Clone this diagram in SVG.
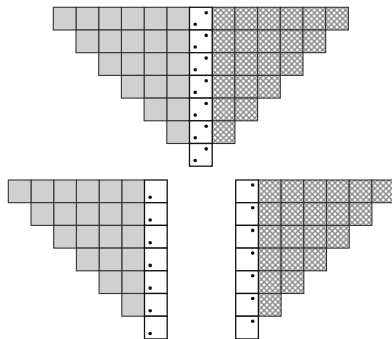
<svg xmlns="http://www.w3.org/2000/svg" xmlns:xlink="http://www.w3.org/1999/xlink" width="392" height="339" viewBox="0 0 392 339">
<style>
.g{fill:#d0d0d0;stroke:#333333;stroke-width:1.1}
.h{fill:url(#hatch);stroke:#333333;stroke-width:1.1}
.w{fill:#ffffff;stroke:#111111;stroke-width:1.3}
.dt{fill:#111111}
</style>
<defs>
<pattern id="hatch" patternUnits="userSpaceOnUse" width="5.675" height="5.675">
<rect width="5.675" height="5.675" fill="#ffffff"/>
<path d="M-1,-1 L6.675,6.675 M6.675,-1 L-1,6.675" stroke="#858585" stroke-width="1.35"/>
</pattern>
<rect id="gc" class="g" width="22.7" height="22.7"/>
<rect id="hc" class="h" width="22.7" height="22.7"/>
<g id="d2"><rect class="w" width="22.7" height="22.7"/><circle class="dt" cx="16.7" cy="5.4" r="1.8"/><circle class="dt" cx="5.7" cy="17" r="1.8"/></g>
<g id="dl"><rect class="w" width="22.7" height="22.7"/><circle class="dt" cx="5.7" cy="17.3" r="1.8"/></g>
<g id="dr"><rect class="w" width="22.7" height="22.7"/><circle class="dt" cx="17" cy="5" r="1.8"/></g>
</defs>
<g id="connectors"/>
<g id="top" transform="translate(189.5,7.3)">
<use href="#gc" x="-22.7" y="0"/><use href="#gc" x="-45.4" y="0"/><use href="#gc" x="-68.1" y="0"/><use href="#gc" x="-90.8" y="0"/><use href="#gc" x="-113.5" y="0"/><use href="#gc" x="-136.2" y="0"/>
<use href="#gc" x="-22.7" y="22.7"/><use href="#gc" x="-45.4" y="22.7"/><use href="#gc" x="-68.1" y="22.7"/><use href="#gc" x="-90.8" y="22.7"/><use href="#gc" x="-113.5" y="22.7"/>
<use href="#gc" x="-22.7" y="45.4"/><use href="#gc" x="-45.4" y="45.4"/><use href="#gc" x="-68.1" y="45.4"/><use href="#gc" x="-90.8" y="45.4"/>
<use href="#gc" x="-22.7" y="68.1"/><use href="#gc" x="-45.4" y="68.1"/><use href="#gc" x="-68.1" y="68.1"/>
<use href="#gc" x="-22.7" y="90.8"/><use href="#gc" x="-45.4" y="90.8"/>
<use href="#gc" x="-22.7" y="113.5"/>
<use href="#hc" x="22.7" y="0"/><use href="#hc" x="45.4" y="0"/><use href="#hc" x="68.1" y="0"/><use href="#hc" x="90.8" y="0"/><use href="#hc" x="113.5" y="0"/><use href="#hc" x="136.2" y="0"/>
<use href="#hc" x="22.7" y="22.7"/><use href="#hc" x="45.4" y="22.7"/><use href="#hc" x="68.1" y="22.7"/><use href="#hc" x="90.8" y="22.7"/><use href="#hc" x="113.5" y="22.7"/>
<use href="#hc" x="22.7" y="45.4"/><use href="#hc" x="45.4" y="45.4"/><use href="#hc" x="68.1" y="45.4"/><use href="#hc" x="90.8" y="45.4"/>
<use href="#hc" x="22.7" y="68.1"/><use href="#hc" x="45.4" y="68.1"/><use href="#hc" x="68.1" y="68.1"/>
<use href="#hc" x="22.7" y="90.8"/><use href="#hc" x="45.4" y="90.8"/>
<use href="#hc" x="22.7" y="113.5"/>
<use href="#d2" x="0" y="0"/><use href="#d2" x="0" y="22.7"/><use href="#d2" x="0" y="45.4"/><use href="#d2" x="0" y="68.1"/><use href="#d2" x="0" y="90.8"/><use href="#d2" x="0" y="113.5"/><use href="#d2" x="0" y="136.2"/>
</g>
<g id="bottom-left" transform="translate(144.5,180)">
<use href="#gc" x="-22.7" y="0"/><use href="#gc" x="-45.4" y="0"/><use href="#gc" x="-68.1" y="0"/><use href="#gc" x="-90.8" y="0"/><use href="#gc" x="-113.5" y="0"/><use href="#gc" x="-136.2" y="0"/>
<use href="#gc" x="-22.7" y="22.7"/><use href="#gc" x="-45.4" y="22.7"/><use href="#gc" x="-68.1" y="22.7"/><use href="#gc" x="-90.8" y="22.7"/><use href="#gc" x="-113.5" y="22.7"/>
<use href="#gc" x="-22.7" y="45.4"/><use href="#gc" x="-45.4" y="45.4"/><use href="#gc" x="-68.1" y="45.4"/><use href="#gc" x="-90.8" y="45.4"/>
<use href="#gc" x="-22.7" y="68.1"/><use href="#gc" x="-45.4" y="68.1"/><use href="#gc" x="-68.1" y="68.1"/>
<use href="#gc" x="-22.7" y="90.8"/><use href="#gc" x="-45.4" y="90.8"/>
<use href="#gc" x="-22.7" y="113.5"/>
<use href="#dl" x="0" y="0"/><use href="#dl" x="0" y="22.7"/><use href="#dl" x="0" y="45.4"/><use href="#dl" x="0" y="68.1"/><use href="#dl" x="0" y="90.8"/><use href="#dl" x="0" y="113.5"/><use href="#dl" x="0" y="136.2"/>
</g>
<g id="bottom-right" transform="translate(235.7,180)">
<use href="#hc" x="22.7" y="0"/><use href="#hc" x="45.4" y="0"/><use href="#hc" x="68.1" y="0"/><use href="#hc" x="90.8" y="0"/><use href="#hc" x="113.5" y="0"/><use href="#hc" x="136.2" y="0"/>
<use href="#hc" x="22.7" y="22.7"/><use href="#hc" x="45.4" y="22.7"/><use href="#hc" x="68.1" y="22.7"/><use href="#hc" x="90.8" y="22.7"/><use href="#hc" x="113.5" y="22.7"/>
<use href="#hc" x="22.7" y="45.4"/><use href="#hc" x="45.4" y="45.4"/><use href="#hc" x="68.1" y="45.4"/><use href="#hc" x="90.8" y="45.4"/>
<use href="#hc" x="22.7" y="68.1"/><use href="#hc" x="45.4" y="68.1"/><use href="#hc" x="68.1" y="68.1"/>
<use href="#hc" x="22.7" y="90.8"/><use href="#hc" x="45.4" y="90.8"/>
<use href="#hc" x="22.7" y="113.5"/>
<use href="#dr" x="0" y="0"/><use href="#dr" x="0" y="22.7"/><use href="#dr" x="0" y="45.4"/><use href="#dr" x="0" y="68.1"/><use href="#dr" x="0" y="90.8"/><use href="#dr" x="0" y="113.5"/><use href="#dr" x="0" y="136.2"/>
</g>
</svg>
